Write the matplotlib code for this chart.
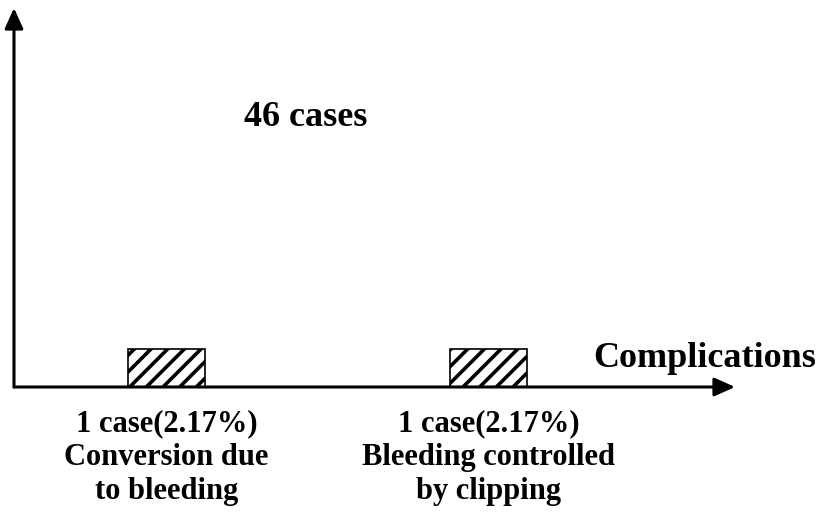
import matplotlib
matplotlib.use("Agg")
import matplotlib.pyplot as plt
from matplotlib.transforms import blended_transform_factory

# ---- data ----
categories = ["Conversion due\nto bleeding", "Bleeding controlled\nby clipping"]
cases = [1, 1]
total_cases = 46
x_label = "Complications"
total_label = f"{total_cases} cases"

plt.rcParams['font.family'] = ['Liberation Serif', 'DejaVu Serif']
plt.rcParams['font.weight'] = 'bold'
plt.rcParams['hatch.linewidth'] = 2.6

W, H = 822, 513
fig = plt.figure(figsize=(W / 100, H / 100), dpi=100)

def fx(px):
    return px / W

def fy(py):
    return 1 - py / H

# axes: left edge at x=14px, bottom at y=387px, right (arrow tip) 735px, top (arrow tip) 8px
ax = fig.add_axes([fx(14), fy(387), fx(735) - fx(14), fy(8) - fy(387)])
for s in ax.spines.values():
    s.set_visible(False)
ax.set_xticks([])
ax.set_yticks([])
ax.patch.set_alpha(0)

positions = list(range(1, len(categories) + 1))
unit_px = 322.0
x0 = 1 - (166.5 - 14) / unit_px
ax.set_xlim(x0, x0 + (735 - 14) / unit_px)
ax.set_ylim(0, (387 - 8) / 38.0)

ax.bar(positions, cases, width=77 / unit_px, color='white', edgecolor='black',
       hatch='//', linewidth=1.2, zorder=2)

# axis arrows
arrow_kw = dict(arrowstyle='-|>,head_length=1.0,head_width=0.45', color='black',
                lw=2.2, shrinkA=0, shrinkB=0, mutation_scale=12.5)
ax.annotate('', xy=(0, 1), xytext=(0, 0), xycoords='axes fraction',
            textcoords='axes fraction', arrowprops=arrow_kw, annotation_clip=False, zorder=5)
ax.annotate('', xy=(1, 0), xytext=(0, 0), xycoords='axes fraction',
            textcoords='axes fraction', arrowprops=arrow_kw, annotation_clip=False, zorder=5)

# texts
fig.text(fx(305.5), fy(126), total_label, ha='center', va='baseline',
         fontsize=26, fontweight='bold')
fig.text(fx(704.5), fy(367), x_label, ha='center', va='baseline',
         fontsize=26, fontweight='bold')

trans = blended_transform_factory(ax.transData, fig.transFigure)
baselines = [431, 465, 499]
for pos, cat, c in zip(positions, categories, cases):
    pct = c / total_cases * 100
    lines = [f"{c} case({pct:.2f}%)"] + cat.split("\n")
    for ln, b in zip(lines, baselines):
        ax.text(pos, fy(b), ln, transform=trans, ha='center', va='baseline',
                fontsize=22, fontweight='bold', clip_on=False)

fig.savefig("out.png", dpi=100)
